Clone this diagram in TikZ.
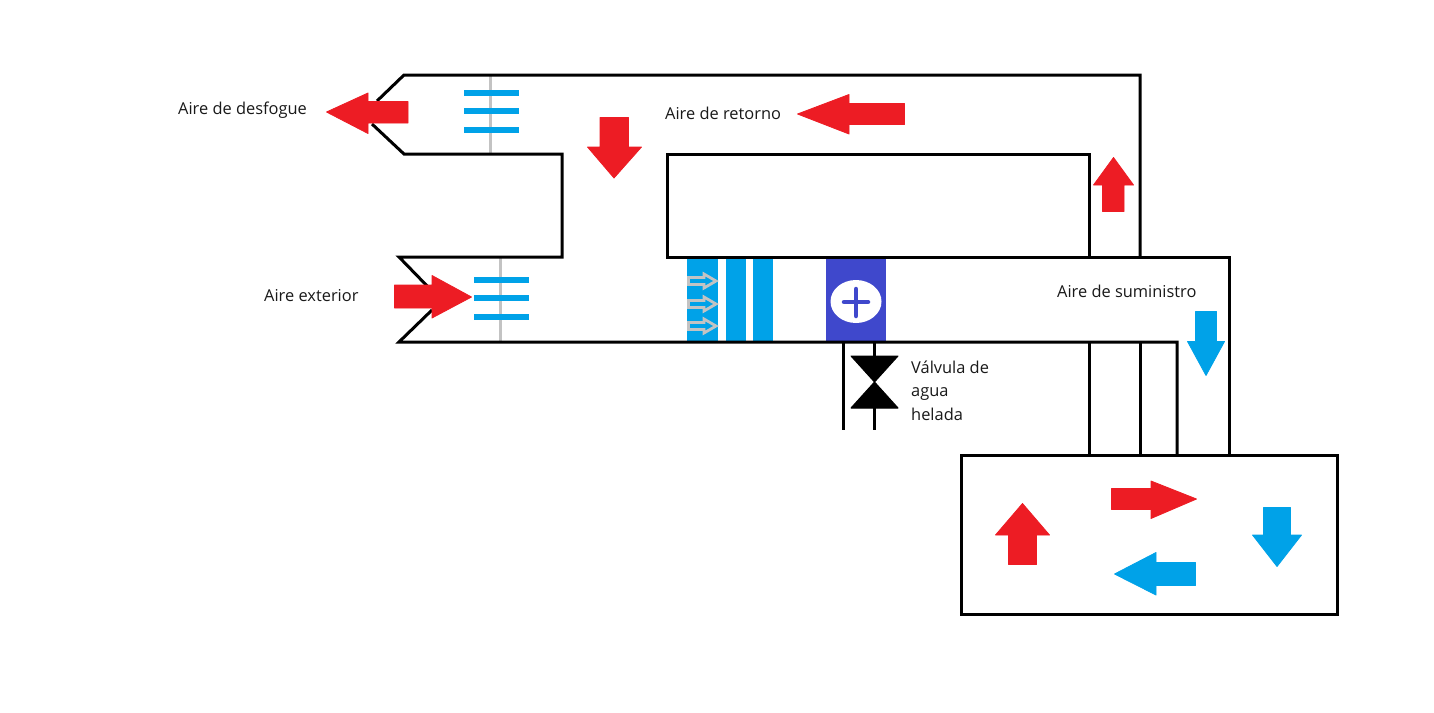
\documentclass[tikz,border=0pt]{standalone}
\usepackage{fontspec}
\setmainfont{Open Sans}
\definecolor{redair}{HTML}{ED1C24}
\definecolor{blueair}{HTML}{00A2E8}
\definecolor{coilblue}{HTML}{3F48CC}
\definecolor{dampergrey}{HTML}{C3C3C3}
\tikzset{
  duct/.style={draw=black,line width=3pt,line join=miter},
  damperrod/.style={draw=dampergrey,line width=3pt},
  blade/.style={fill=blueair},
  hotarrow/.style={fill=redair,draw=redair,line width=.8pt,line join=round},
  coldarrow/.style={fill=blueair,draw=blueair,line width=.8pt,line join=round},
  hollow/.style={draw=dampergrey,fill=blueair,line width=2.8pt,line join=miter},
  label/.style={anchor=base west,inner sep=0pt,font=\fontsize{16.4}{20}\selectfont,text=black!90}
}
\begin{document}
\begin{tikzpicture}[x=1pt,y=-1pt]
\useasboundingbox[fill=white] (0,0) rectangle (1434,712);
% dampers
\draw[damperrod] (490,75) -- (490,154);
\draw[damperrod] (500,257) -- (500,342);
\foreach \y in {93,111,130}{\fill[blade] (464,\y-2.7) rectangle (519,\y+2.7);}
\foreach \y in {280,298,317}{\fill[blade] (474,\y-2.7) rectangle (529,\y+2.7);}
% filters
\fill[blueair] (687,258) rectangle (718,341);
\fill[blueair] (726,258) rectangle (746,341);
\fill[blueair] (753,258) rectangle (773,341);
\foreach \y in {281,304,326}{
  \draw[hollow] (688.5,\y-3.5) -- (704,\y-3.5) -- (704,\y-7) -- (716,\y) -- (704,\y+7) -- (704,\y+3.5) -- (688.5,\y+3.5) -- cycle;}
% coil
\fill[coilblue] (826,258) rectangle (886,341);
\fill[white] (856,301.5) ellipse [x radius=25.5,y radius=21.5];
\draw[coilblue,line width=4.5pt,line cap=round] (844,302) -- (868,302);
\draw[coilblue,line width=4.5pt,line cap=round] (856,289) -- (856,316);
% ducts
\draw[duct] (377,101) -- (404,75) -- (1140,75) -- (1140,257);
\draw[duct] (372,124) -- (404,154) -- (562,154) -- (562,257) -- (399,257) -- (432,291);
\draw[duct] (667,154) -- (1089,154) -- (1089,257) -- (667,257) -- cycle;
\draw[duct] (1089,257) -- (1229,257) -- (1229,455);
\draw[duct] (432,310) -- (399,342) -- (1177,342) -- (1177,455);
\draw[duct] (1089,342) -- (1089,455);
\draw[duct] (1140,342) -- (1140,455);
\draw[duct] (961,455) rectangle (1337,614);
% valve
\draw[draw=black,line width=3pt] (843,342) -- (843,430);
\draw[draw=black,line width=3pt] (874,342) -- (874,356);
\draw[draw=black,line width=3pt] (874,408) -- (874,430);
\fill[black,draw=black,line width=1pt,line join=round] (851,356) -- (898,356) -- (874.5,382) -- (898,408) -- (851,408) -- (874.5,382) -- cycle;
% red arrows
\path[hotarrow] (326.5,112) -- (368,93) -- (368,101.5) -- (408,101.5) -- (408,123) -- (368,123) -- (368,133.5) -- cycle;
\path[hotarrow] (614,178) -- (587.5,147) -- (600,147) -- (600,117.5) -- (628.5,117.5) -- (628.5,147) -- (641.5,147) -- cycle;
\path[hotarrow] (797.5,114) -- (849,94.5) -- (849,103.5) -- (904.5,103.5) -- (904.5,124.5) -- (849,124.5) -- (849,134) -- cycle;
\path[hotarrow] (471.5,297) -- (432,275.5) -- (432,285) -- (394.5,285) -- (394.5,308) -- (432,308) -- (432,318) -- cycle;
\path[hotarrow] (1113.5,157.5) -- (1133.5,185) -- (1124,185) -- (1124,211.5) -- (1102.5,211.5) -- (1102.5,185) -- (1093.5,185) -- cycle;
\path[hotarrow] (1022.5,503.5) -- (1049.5,535) -- (1036.5,535) -- (1036.5,564.5) -- (1008.5,564.5) -- (1008.5,535) -- (995.5,535) -- cycle;
\path[hotarrow] (1196.5,499) -- (1151,481) -- (1151,488.5) -- (1111.5,488.5) -- (1111.5,509.5) -- (1151,509.5) -- (1151,518.5) -- cycle;
% blue arrows
\path[coldarrow] (1206,375.5) -- (1187.5,341.5) -- (1195.5,341.5) -- (1195.5,311.5) -- (1216.5,311.5) -- (1216.5,341.5) -- (1224.5,341.5) -- cycle;
\path[coldarrow] (1114.5,574) -- (1156,552.5) -- (1156,562.5) -- (1195.5,562.5) -- (1195.5,585.5) -- (1156,585.5) -- (1156,595) -- cycle;
\path[coldarrow] (1277,566.5) -- (1252.5,535) -- (1263.5,535) -- (1263.5,507.5) -- (1290.5,507.5) -- (1290.5,535) -- (1301.5,535) -- cycle;
% labels
\node[label] (desfogue) at (178,114) {Aire de desfogue};
\node[label] (retorno) at (665,119) {Aire de retorno};
\node[label] (exterior) at (264,301) {Aire exterior};
\node[label] (suministro) at (1057,297) {Aire de suministro};
\node[label] (valv1) at (911,373) {Válvula de};
\node[label] (valv2) at (911,396) {agua};
\node[label] (valv3) at (911,420) {helada};
\end{tikzpicture}
\end{document}
